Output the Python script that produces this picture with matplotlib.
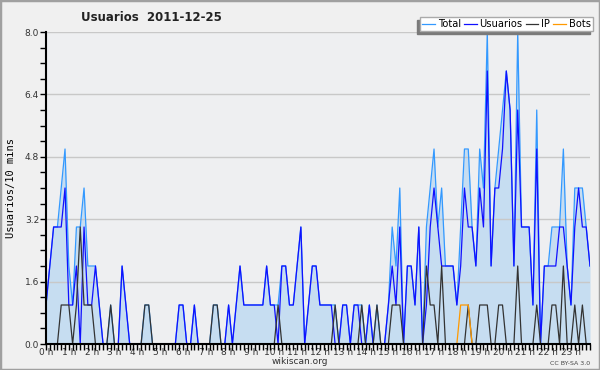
import numpy as np
import matplotlib.pyplot as plt
from matplotlib.patches import Rectangle

# values per 10 minutes, 144 slots
usuarios = [1, 2, 3, 3, 3, 4, 1, 1, 2, 0,
            3, 1, 1, 2, 1, 0, 0, 0, 0, 0,
            2, 1, 0, 0, 0, 0, 0, 0, 0, 0,
            0, 0, 0, 0, 0, 1, 1, 0, 0, 1,
            0, 0, 0, 0, 0, 0, 0, 0, 1, 0,
            1, 2, 1, 1, 1, 1, 1, 1, 2, 1,
            1, 0, 2, 2, 1, 1, 2, 3, 0, 1,
            2, 2, 1, 1, 1, 1, 0, 0, 1, 1,
            0, 1, 1, 0, 0, 1, 0, 0, 0, 0,
            1, 2, 1, 3, 0, 2, 2, 1, 3, 0,
            1, 3, 4, 3, 2, 2, 2, 2, 1, 2,
            4, 3, 3, 2, 4, 3, 7, 2, 4, 4,
            5, 7, 6, 2, 6, 3, 3, 3, 1, 5,
            0, 2, 2, 2, 2, 3, 3, 2, 1, 3,
            4, 3, 3, 2]
ip = [0, 0, 0, 0, 1, 1, 1, 0, 1, 3,
      1, 1, 1, 0, 0, 0, 0, 1, 0, 0,
      0, 0, 0, 0, 0, 0, 1, 1, 0, 0,
      0, 0, 0, 0, 0, 0, 0, 0, 0, 0,
      0, 0, 0, 0, 1, 1, 0, 0, 0, 0,
      0, 0, 0, 0, 0, 0, 0, 0, 0, 0,
      0, 1, 0, 0, 0, 0, 0, 0, 0, 0,
      0, 0, 0, 0, 0, 0, 1, 0, 0, 0,
      0, 0, 0, 1, 0, 0, 0, 1, 0, 0,
      0, 1, 1, 1, 0, 0, 0, 0, 0, 0,
      2, 1, 1, 0, 2, 0, 0, 0, 0, 0,
      0, 1, 0, 0, 1, 1, 1, 0, 0, 1,
      1, 0, 0, 0, 2, 0, 0, 0, 0, 1,
      0, 0, 0, 1, 1, 0, 2, 0, 0, 1,
      0, 1, 0, 0]
bots = [0] * 109 + [1, 1, 1] + [0] * 32
total = [1, 2, 3, 3, 4, 5, 2, 1, 3, 3,
         4, 2, 2, 2, 1, 0, 0, 1, 0, 0,
         2, 1, 0, 0, 0, 0, 1, 1, 0, 0,
         0, 0, 0, 0, 0, 1, 1, 0, 0, 1,
         0, 0, 0, 0, 1, 1, 0, 0, 1, 0,
         1, 2, 1, 1, 1, 1, 1, 1, 2, 1,
         1, 1, 2, 2, 1, 1, 2, 3, 0, 1,
         2, 2, 1, 1, 1, 1, 1, 0, 1, 1,
         0, 1, 1, 1, 0, 1, 0, 1, 0, 0,
         1, 3, 2, 4, 0, 2, 2, 1, 3, 0,
         3, 4, 5, 3, 4, 2, 2, 2, 1, 3,
         5, 5, 3, 2, 5, 4, 8, 2, 4, 5,
         6, 7, 6, 2, 8, 3, 3, 3, 1, 6,
         0, 2, 2, 3, 3, 3, 5, 2, 1, 4,
         4, 4, 3, 2]
hour_labels = ["%d h" % h for h in range(24)]

x = np.arange(len(total))

fig = plt.figure(figsize=(6, 3.7), dpi=100, facecolor='#f0f0f0')
ax = fig.add_axes([46/600, 26/370, 544/600, 312/370])
ax.set_facecolor('#eeeff1')

ax.fill_between(x, total, color='#c6ddf1', lw=0, zorder=1)
ax.plot(x, total, color='#3399ff', lw=0.9, label='Total', zorder=3)
ax.plot(x, usuarios, color='#1010ff', lw=0.9, label='Usuarios', zorder=4)
ax.plot(x, ip, color='#333333', lw=0.9, label='IP', zorder=5)
ax.plot(x, bots, color='#ff9900', lw=0.9, label='Bots', zorder=6)

ax.set_xlim(0, len(total) - 1)
ax.set_ylim(0, 8)

# y axis: labels every 1.6, small ticks every 0.4
ax.set_yticks(np.arange(0, 8.01, 1.6))
ax.set_yticklabels(["%.1f" % v for v in np.arange(0, 8.01, 1.6)])
ax.set_yticks(np.arange(0, 8.01, 0.4), minor=True)
ax.grid(axis='y', which='major', color='#c8c8c8', lw=1.0, zorder=0)

# x axis: tick every 10 min, label every hour
ax.set_xticks(np.arange(0, 144, 6))
ax.set_xticklabels(hour_labels)
ax.set_xticks(np.arange(0, 144, 1), minor=True)

ax.tick_params(axis='both', which='both', direction='out', length=4, width=1,
               colors='black', labelsize=6.5)
ax.tick_params(axis='x', which='major', labelcolor='#333333', pad=-1)
ax.tick_params(axis='y', which='major', labelcolor='#333333', pad=1)

for s in ['top', 'right']:
    ax.spines[s].set_visible(False)
for s in ['left', 'bottom']:
    ax.spines[s].set_linewidth(1.5)
    ax.spines[s].set_zorder(7)

ax.set_ylabel('Usuarios/10 mins', family='DejaVu Sans Mono', fontsize=7.5, labelpad=6)

fig.text(0.252, 0.954, 'Usuarios  2011-12-25', fontsize=8.5, fontweight='bold',
         ha='center', va='center', color='#222222')
fig.text(0.5, 0.022, 'wikiscan.org', fontsize=6.5, ha='center', va='center', color='#333333')
fig.text(0.983, 0.017, 'CC BY-SA 3.0', fontsize=4.5, ha='right', va='center', color='#444444')

leg = ax.legend(loc='upper right', bbox_to_anchor=(593/600, 1 - 17/370),
                bbox_transform=fig.transFigure, ncol=4, fontsize=7.1,
                handlelength=1.3, handletextpad=0.3, columnspacing=0.3,
                borderpad=0.2, borderaxespad=0, fancybox=False,
                shadow={'ox': -2, 'oy': -2, 'color': '#7a7a7a', 'alpha': 1})
leg.get_frame().set_edgecolor('#aaaaaa')
leg.get_frame().set_linewidth(1.0)
leg.set_zorder(10)

# outer border of the image
fig.patches.append(Rectangle((0, 0), 1, 1, transform=fig.transFigure, fill=False,
                             edgecolor='#a0a0a0', lw=2.5))

fig.savefig('out.png', dpi=100, facecolor=fig.get_facecolor())
